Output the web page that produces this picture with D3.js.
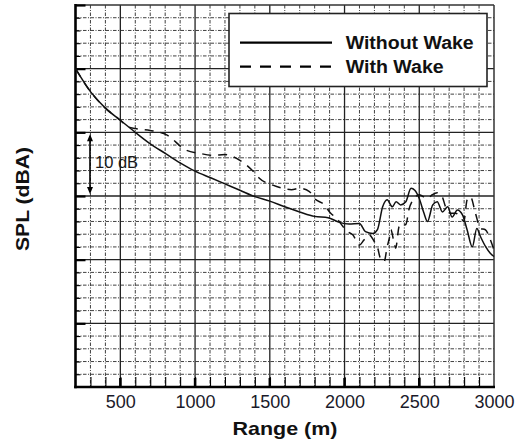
<!DOCTYPE html>
<html>
<head>
<meta charset="utf-8">
<script src="https://cdn.jsdelivr.net/npm/d3@7/dist/d3.min.js"></script>
<style>
  html, body { margin: 0; padding: 0; background: #fff; }
  svg { display: block; }
  text { font-family: Arial, "Liberation Sans", sans-serif; }
</style>
</head>
<body>
<svg id="chart" width="521" height="444"></svg>
<script>
// ---- data ----
const seriesNames = ["Without Wake", "With Wake"];
const xTickValues = [500, 1000, 1500, 2000, 2500, 3000];

const rangeWithout = [200, 300, 400, 500, 600, 700, 800, 900, 1000, 1100, 1200, 1300, 1400, 1500, 1600, 1700, 1800, 1890, 1960, 2030, 2100, 2140, 2190, 2220, 2255, 2285, 2320, 2345, 2375, 2410, 2445, 2470, 2500, 2530, 2555, 2590, 2620, 2655, 2690, 2720, 2755, 2790, 2820, 2855, 2885, 2910, 2945, 2975, 3000];
const splWithout = [90.0, 86.4, 83.8, 81.9, 80.0, 78.2, 76.7, 75.2, 73.9, 72.9, 71.9, 70.9, 69.9, 69.2, 68.3, 67.5, 66.8, 66.6, 65.9, 65.6, 65.7, 64.4, 64.1, 64.7, 68.3, 69.4, 68.3, 69.1, 68.6, 69.1, 71.2, 70.9, 69.6, 67.4, 66.0, 68.6, 69.1, 67.5, 68.3, 66.7, 67.8, 67.0, 64.7, 62.0, 64.9, 63.6, 62.0, 61.0, 60.5];

const rangeWith = [200, 300, 400, 500, 550, 600, 700, 810, 940, 1030, 1120, 1200, 1300, 1400, 1430, 1520, 1590, 1645, 1700, 1765, 1800, 1865, 1900, 1950, 2020, 2055, 2100, 2130, 2165, 2200, 2220, 2240, 2265, 2285, 2300, 2310, 2330, 2342, 2365, 2387, 2410, 2430, 2465, 2500, 2553, 2587, 2620, 2653, 2676, 2709, 2742, 2776, 2798, 2820, 2842, 2876, 2909, 2942, 2976, 3000];
const splWith = [90.0, 86.4, 83.8, 81.9, 80.9, 80.6, 80.3, 79.6, 77.2, 76.7, 76.4, 76.5, 75.6, 73.6, 72.8, 71.7, 71.2, 71.0, 71.2, 70.7, 69.6, 68.6, 67.5, 66.4, 64.4, 63.9, 62.3, 63.1, 63.9, 62.8, 62.0, 60.2, 59.7, 62.0, 63.4, 64.7, 62.8, 61.8, 65.2, 65.7, 65.5, 67.8, 69.6, 70.2, 69.6, 70.2, 70.5, 69.9, 68.3, 67.3, 67.3, 66.7, 66.0, 69.4, 69.9, 67.3, 64.9, 64.7, 63.1, 61.5];

// ---- layout ----
const svg = d3.select("#chart");
const L = 75.5, R = 494, T = 5, B = 387;
const x = d3.scaleLinear().domain([200, 3000]).range([L, R]);
const y = d3.scaleLinear().domain([40, 100]).range([B, T]);

const g = svg.append("g");

// minor grid
const minorX = d3.range(300, 3000, 100).filter(v => v % 500 !== 0);
const minorY = d3.range(42, 100, 2).filter(v => v % 10 !== 0);
g.append("g").selectAll("line").data(minorX).join("line")
  .attr("x1", d => x(d)).attr("x2", d => x(d)).attr("y1", T).attr("y2", B)
  .attr("stroke", "#2a2a2a").attr("stroke-width", 0.9).attr("stroke-dasharray", "3.5,1.5,1,1.5");
g.append("g").selectAll("line").data(minorY).join("line")
  .attr("y1", d => y(d)).attr("y2", d => y(d)).attr("x1", L).attr("x2", R)
  .attr("stroke", "#2a2a2a").attr("stroke-width", 0.9).attr("stroke-dasharray", "3.5,1.5,1,1.5");

// major grid
const majorX = [500, 1000, 1500, 2000, 2500];
const majorY = [50, 60, 70, 80, 90];
g.append("g").selectAll("line").data(majorX).join("line")
  .attr("x1", d => x(d)).attr("x2", d => x(d)).attr("y1", T).attr("y2", B)
  .attr("stroke", "#222").attr("stroke-width", 1.3);
g.append("g").selectAll("line").data(majorY).join("line")
  .attr("y1", d => y(d)).attr("y2", d => y(d)).attr("x1", L).attr("x2", R)
  .attr("stroke", "#222").attr("stroke-width", 1.3);

// frame top/right
g.append("line").attr("x1", L).attr("x2", R).attr("y1", T).attr("y2", T).attr("stroke", "#333").attr("stroke-width", 1.3);
g.append("line").attr("x1", R).attr("x2", R).attr("y1", T).attr("y2", B).attr("stroke", "#333").attr("stroke-width", 1.5);

// axes
const xAxisMinor = d3.axisTop(x).tickValues(d3.range(300, 3000, 100)).tickSize(10).tickFormat("");
const xAx = svg.append("g").attr("transform", `translate(0,${B})`).call(xAxisMinor);
xAx.select(".domain").remove();
xAx.selectAll("line").attr("stroke", "#000").attr("stroke-width", 1.1);

const xAxisMajor = d3.axisBottom(x).tickValues(xTickValues).tickSize(0).tickPadding(4).tickFormat(d3.format("d"));
const xAx2 = svg.append("g").attr("transform", `translate(0,${B})`).call(xAxisMajor);
xAx2.select(".domain").remove();
xAx2.selectAll("text").attr("font-size", 18).attr("fill", "#1a1a2a").attr("dy", "0.95em")
  .attr("font-family", "Arial, 'Liberation Sans', sans-serif");

// major tick marks on bottom (thick, pointing up)
svg.append("g").selectAll("line").data(majorX).join("line")
  .attr("x1", d => x(d)).attr("x2", d => x(d)).attr("y1", B).attr("y2", B - 9)
  .attr("stroke", "#000").attr("stroke-width", 2.5);

// left axis: major ticks
const yAxis = d3.axisRight(y).tickValues([50, 60, 70, 80, 90, 100]).tickSize(10).tickFormat("");
const yAx = svg.append("g").attr("transform", `translate(${L},0)`).call(yAxis);
yAx.select(".domain").remove();
yAx.selectAll("line").attr("stroke", "#000").attr("stroke-width", 2.2);
const yAxisMinor = d3.axisRight(y).tickValues(minorY).tickSize(5).tickFormat("");
const yAx2 = svg.append("g").attr("transform", `translate(${L},0)`).call(yAxisMinor);
yAx2.select(".domain").remove();
yAx2.selectAll("line").attr("stroke", "#000").attr("stroke-width", 1.1);

// axis lines (left + bottom thick)
svg.append("line").attr("x1", L).attr("x2", L).attr("y1", T - 1).attr("y2", B + 1.2).attr("stroke", "#000").attr("stroke-width", 2.6);
svg.append("line").attr("x1", L - 1.3).attr("x2", R + 1).attr("y1", B).attr("y2", B).attr("stroke", "#000").attr("stroke-width", 2.6);

// curves
const line = d3.line().x(d => x(d[0])).y(d => y(d[1])).curve(d3.curveMonotoneX);
const dataWithout = d3.zip(rangeWithout, splWithout);
const dataWith = d3.zip(rangeWith, splWith);
svg.append("path").datum(dataWith).attr("d", line)
  .attr("fill", "none").attr("stroke", "#111").attr("stroke-width", 1.5).attr("stroke-dasharray", "9,7");
svg.append("path").datum(dataWithout).attr("d", line)
  .attr("fill", "none").attr("stroke", "#111").attr("stroke-width", 1.5);

// legend
const lg = svg.append("g");
lg.append("rect").attr("x", 229).attr("y", 13.5).attr("width", 258).attr("height", 73)
  .attr("fill", "#fff").attr("stroke", "#222").attr("stroke-width", 1.6);
lg.append("line").attr("x1", 240).attr("x2", 332).attr("y1", 42.7).attr("y2", 42.7).attr("stroke", "#000").attr("stroke-width", 2.2);
lg.append("line").attr("x1", 240).attr("x2", 332).attr("y1", 66.7).attr("y2", 66.7).attr("stroke", "#000").attr("stroke-width", 2.2).attr("stroke-dasharray", "11,9");
lg.append("text").attr("x", 345.7).attr("y", 49).text(seriesNames[0])
  .attr("font-size", 18).attr("font-weight", "bold").attr("fill", "#111")
  .attr("textLength", 128).attr("lengthAdjust", "spacingAndGlyphs");
lg.append("text").attr("x", 345.7).attr("y", 72.5).text(seriesNames[1])
  .attr("font-size", 18).attr("font-weight", "bold").attr("fill", "#111")
  .attr("textLength", 98).attr("lengthAdjust", "spacingAndGlyphs");

// 10 dB scale bar
const ab = svg.append("g");
const arrowX = 90;
ab.append("line").attr("x1", arrowX).attr("x2", arrowX).attr("y1", y(80) + 4).attr("y2", y(70) - 4)
  .attr("stroke", "#000").attr("stroke-width", 1.6);
ab.append("path").attr("d", `M${arrowX - 3},${y(80) + 9} L${arrowX},${y(80) + 2} L${arrowX + 3},${y(80) + 9} Z`).attr("fill", "#000");
ab.append("path").attr("d", `M${arrowX - 3},${y(70) - 9} L${arrowX},${y(70) - 2} L${arrowX + 3},${y(70) - 9} Z`).attr("fill", "#000");
ab.append("text").attr("x", 95).attr("y", 167.5).text("10 dB")
  .attr("font-size", 16.5).attr("fill", "#1a1a1a");

// axis titles
svg.append("text").attr("x", 285).attr("y", 435).attr("text-anchor", "middle").text("Range (m)")
  .attr("font-size", 19).attr("font-weight", "bold").attr("fill", "#111")
  .attr("textLength", 105).attr("lengthAdjust", "spacingAndGlyphs");
svg.append("text").attr("transform", "translate(29,199) rotate(-90)").attr("text-anchor", "middle").text("SPL (dBA)")
  .attr("font-size", 18).attr("font-weight", "bold").attr("fill", "#111")
  .attr("textLength", 104).attr("lengthAdjust", "spacingAndGlyphs");
</script>
</body>
</html>
